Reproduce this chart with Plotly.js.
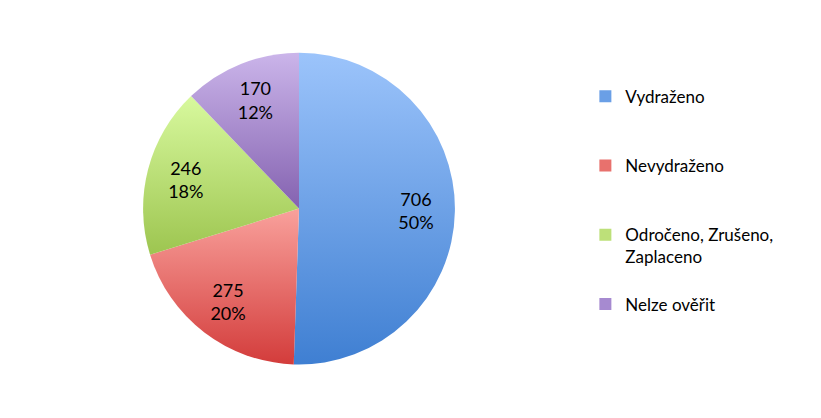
<!DOCTYPE html>
<html>
<head>
<meta charset="utf-8">
<script src="https://cdn.plot.ly/plotly-3.0.1.min.js"></script>
<style>html,body{margin:0;padding:0;background:#fff;}</style>
</head>
<body>
<div id="chart" style="width:821px;height:418px;"></div>
<script>
const categories = ["Vydraženo", "Nevydraženo", "Odročeno, Zrušeno, Zaplaceno", "Nelze ověřit"];
const values = [706, 275, 246, 170];
const percentLabels = ["50%", "20%", "18%", "12%"];
const colors = ["#6a9fe6", "#e8716d", "#bde079", "#a68ad0"];

// per-slice vertical shading (light top, dark bottom)
const shadeTop = ["#9cc4fb", "#f9a19c", "#d8f99e", "#cbb5ea"];
const shadeBottom = ["#3f7fd2", "#d33c3b", "#9dc550", "#8462b0"];

// legend labels: wrap the long one, pad with blank lines for spacing
const legendLabels = [
  categories[0] + "<br> <br> ",
  categories[1] + "<br> <br> ",
  "Odročeno, Zrušeno,<br>Zaplaceno<br> ",
  categories[3]
];

const FONT = "Lato, 'Open Sans', sans-serif";
const dom = {x: [0.1742, 0.5542], y: [0.128, 0.874]};

const data = [{
  type: "pie",
  labels: legendLabels,
  values: values,
  sort: false,
  direction: "clockwise",
  rotation: 0,
  marker: {colors: colors, line: {width: 0}},
  textinfo: "none",
  hoverinfo: "label+value+percent",
  domain: dom
}, {
  type: "pie",
  labels: legendLabels,
  values: values,
  customdata: percentLabels,
  sort: false,
  direction: "clockwise",
  rotation: 0,
  hole: 0.5,
  showlegend: false,
  marker: {colors: values.map(() => "rgba(0,0,0,0)"), line: {width: 0}},
  texttemplate: "%{value}<br>%{customdata}",
  textposition: "inside",
  insidetextorientation: "horizontal",
  textfont: {family: FONT, size: 18, color: "#000"},
  hoverinfo: "skip",
  domain: dom
}];

const layout = {
  width: 821, height: 418,
  margin: {l: 0, r: 0, t: 0, b: 0},
  paper_bgcolor: "#fff",
  showlegend: true,
  legend: {
    x: 0.713, xanchor: "left",
    y: 0.812, yanchor: "top",
    valign: "top",
    font: {family: FONT, size: 17, color: "#000"},
    bgcolor: "rgba(0,0,0,0)"
  }
};

Plotly.newPlot("chart", data, layout, {displayModeBar: false, staticPlot: true}).then(function (gd) {
  const NS = "http://www.w3.org/2000/svg";
  const svg = gd.querySelector("svg.main-svg");
  let defs = svg.querySelector("defs");
  if (!defs) { defs = document.createElementNS(NS, "defs"); svg.insertBefore(defs, svg.firstChild); }
  shadeTop.forEach(function (c, i) {
    const g = document.createElementNS(NS, "linearGradient");
    g.setAttribute("id", "sliceShade" + i);
    g.setAttribute("x1", "0"); g.setAttribute("y1", "0");
    g.setAttribute("x2", "0"); g.setAttribute("y2", "1");
    const s1 = document.createElementNS(NS, "stop");
    s1.setAttribute("offset", "0"); s1.setAttribute("stop-color", c);
    const s2 = document.createElementNS(NS, "stop");
    s2.setAttribute("offset", "1"); s2.setAttribute("stop-color", shadeBottom[i]);
    g.appendChild(s1); g.appendChild(s2);
    defs.appendChild(g);
  });
  const traces = gd.querySelectorAll(".pielayer .trace");
  if (traces.length) {
    traces[0].querySelectorAll("g.slice").forEach(function (sl, i) {
      const p = sl.querySelector("path.surface");
      if (p) p.style.fill = "url(#sliceShade" + i + ")";
    });
  }
});
</script>
</body>
</html>
